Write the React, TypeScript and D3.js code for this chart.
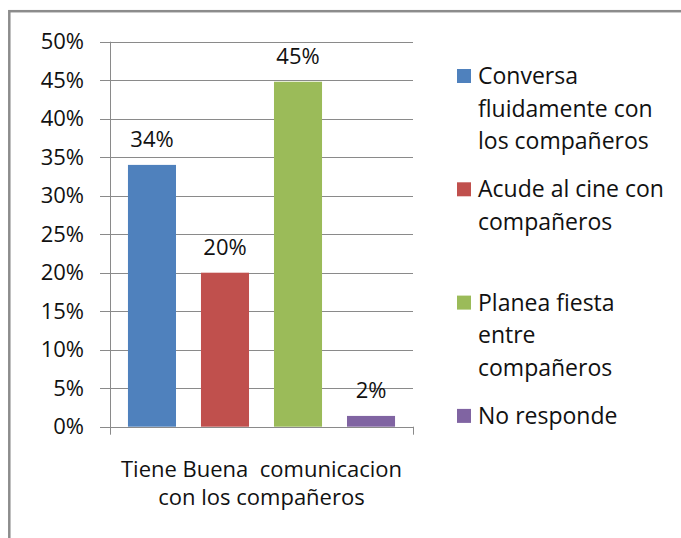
import React from "react";
import * as d3 from "d3";

const categories = ["Conversa fluidamente con los compañeros", "Acude al cine con compañeros", "Planea fiesta entre compañeros", "No responde"];
const legendLines = [["Conversa", "fluidamente con", "los compañeros"], ["Acude al cine con", "compañeros"], ["Planea fiesta", "entre", "compañeros"], ["No responde"]];
const values = [0.34, 0.2, 0.448, 0.014];
const valueLabels = ["34%", "20%", "45%", "2%"];
const colors = ["#4F81BD", "#C0504D", "#9BBB59", "#8064A2"];
const yTicks = [0, 0.05, 0.1, 0.15, 0.2, 0.25, 0.3, 0.35, 0.4, 0.45, 0.5];
const xLabelLines = ["Tiene Buena  comunicacion", "con los compañeros"];

const W = 681, H = 538;
const FONT = "'Open Sans', sans-serif";

export default function App() {
  const left = 110, right = 413, top = 41.7, bottom = 426.7;
  const y = d3.scaleLinear().domain([0, 0.5]).range([bottom, top]);
  const x = d3.scaleBand<number>().domain(d3.range(values.length)).range([left, right]).paddingInner(0.342).paddingOuter(0.246);
  const fmt = d3.format(".0%");
  const gridColor = "#8a8a8a";
  const legendX = 457, legendTop = 69, entryStep = 113.3, lineStep = 32.6;

  return (
    <div style={{ position: "absolute", left: 0, top: 0, width: W, height: H, background: "#fff" }}>
      <svg width={W} height={H} style={{ display: "block" }} fontFamily={FONT}>
        <rect x={9.3} y={11.2} width={W + 20} height={H + 20} fill="#fff" stroke="#8c8c8c" strokeWidth={2.5} />
        {yTicks.map((t, i) => (
          <g key={i}>
            <line x1={left - 10} x2={right} y1={Math.round(y(t)) + 0.5} y2={Math.round(y(t)) + 0.5} stroke={gridColor} strokeWidth={1} />
            <text x={84} y={y(t) + 7.5} textAnchor="end" fontSize={22} fill="#111">{fmt(t)}</text>
          </g>
        ))}
        <line x1={left + 0.5} x2={left + 0.5} y1={top} y2={bottom + 8} stroke={gridColor} />
        <line x1={right + 0.5} x2={right + 0.5} y1={bottom} y2={bottom + 8} stroke={gridColor} />
        {values.map((v, i) => (
          <g key={i}>
            <rect x={x(i)} y={y(v)} width={x.bandwidth()} height={bottom - y(v)} fill={colors[i]} />
            <text x={(x(i) as number) + x.bandwidth() / 2} y={y(v) - 18} textAnchor="middle" fontSize={22} fill="#111">{valueLabels[i]}</text>
          </g>
        ))}
        {xLabelLines.map((l, i) => (
          <text key={i} x={(left + right) / 2} y={477 + i * 27.5} textAnchor="middle" fontSize={22} fill="#111" style={{ whiteSpace: "pre" }}>{l}</text>
        ))}
        {legendLines.map((lines, i) => (
          <g key={i}>
            <rect x={legendX} y={legendTop + i * entryStep} width={14} height={14} fill={colors[i]} />
            {lines.map((l, j) => (
              <text key={j} x={478} y={legendTop + 15 + i * entryStep + j * lineStep} fontSize={23} fill="#111">{l}</text>
            ))}
          </g>
        ))}
      </svg>
    </div>
  );
}
